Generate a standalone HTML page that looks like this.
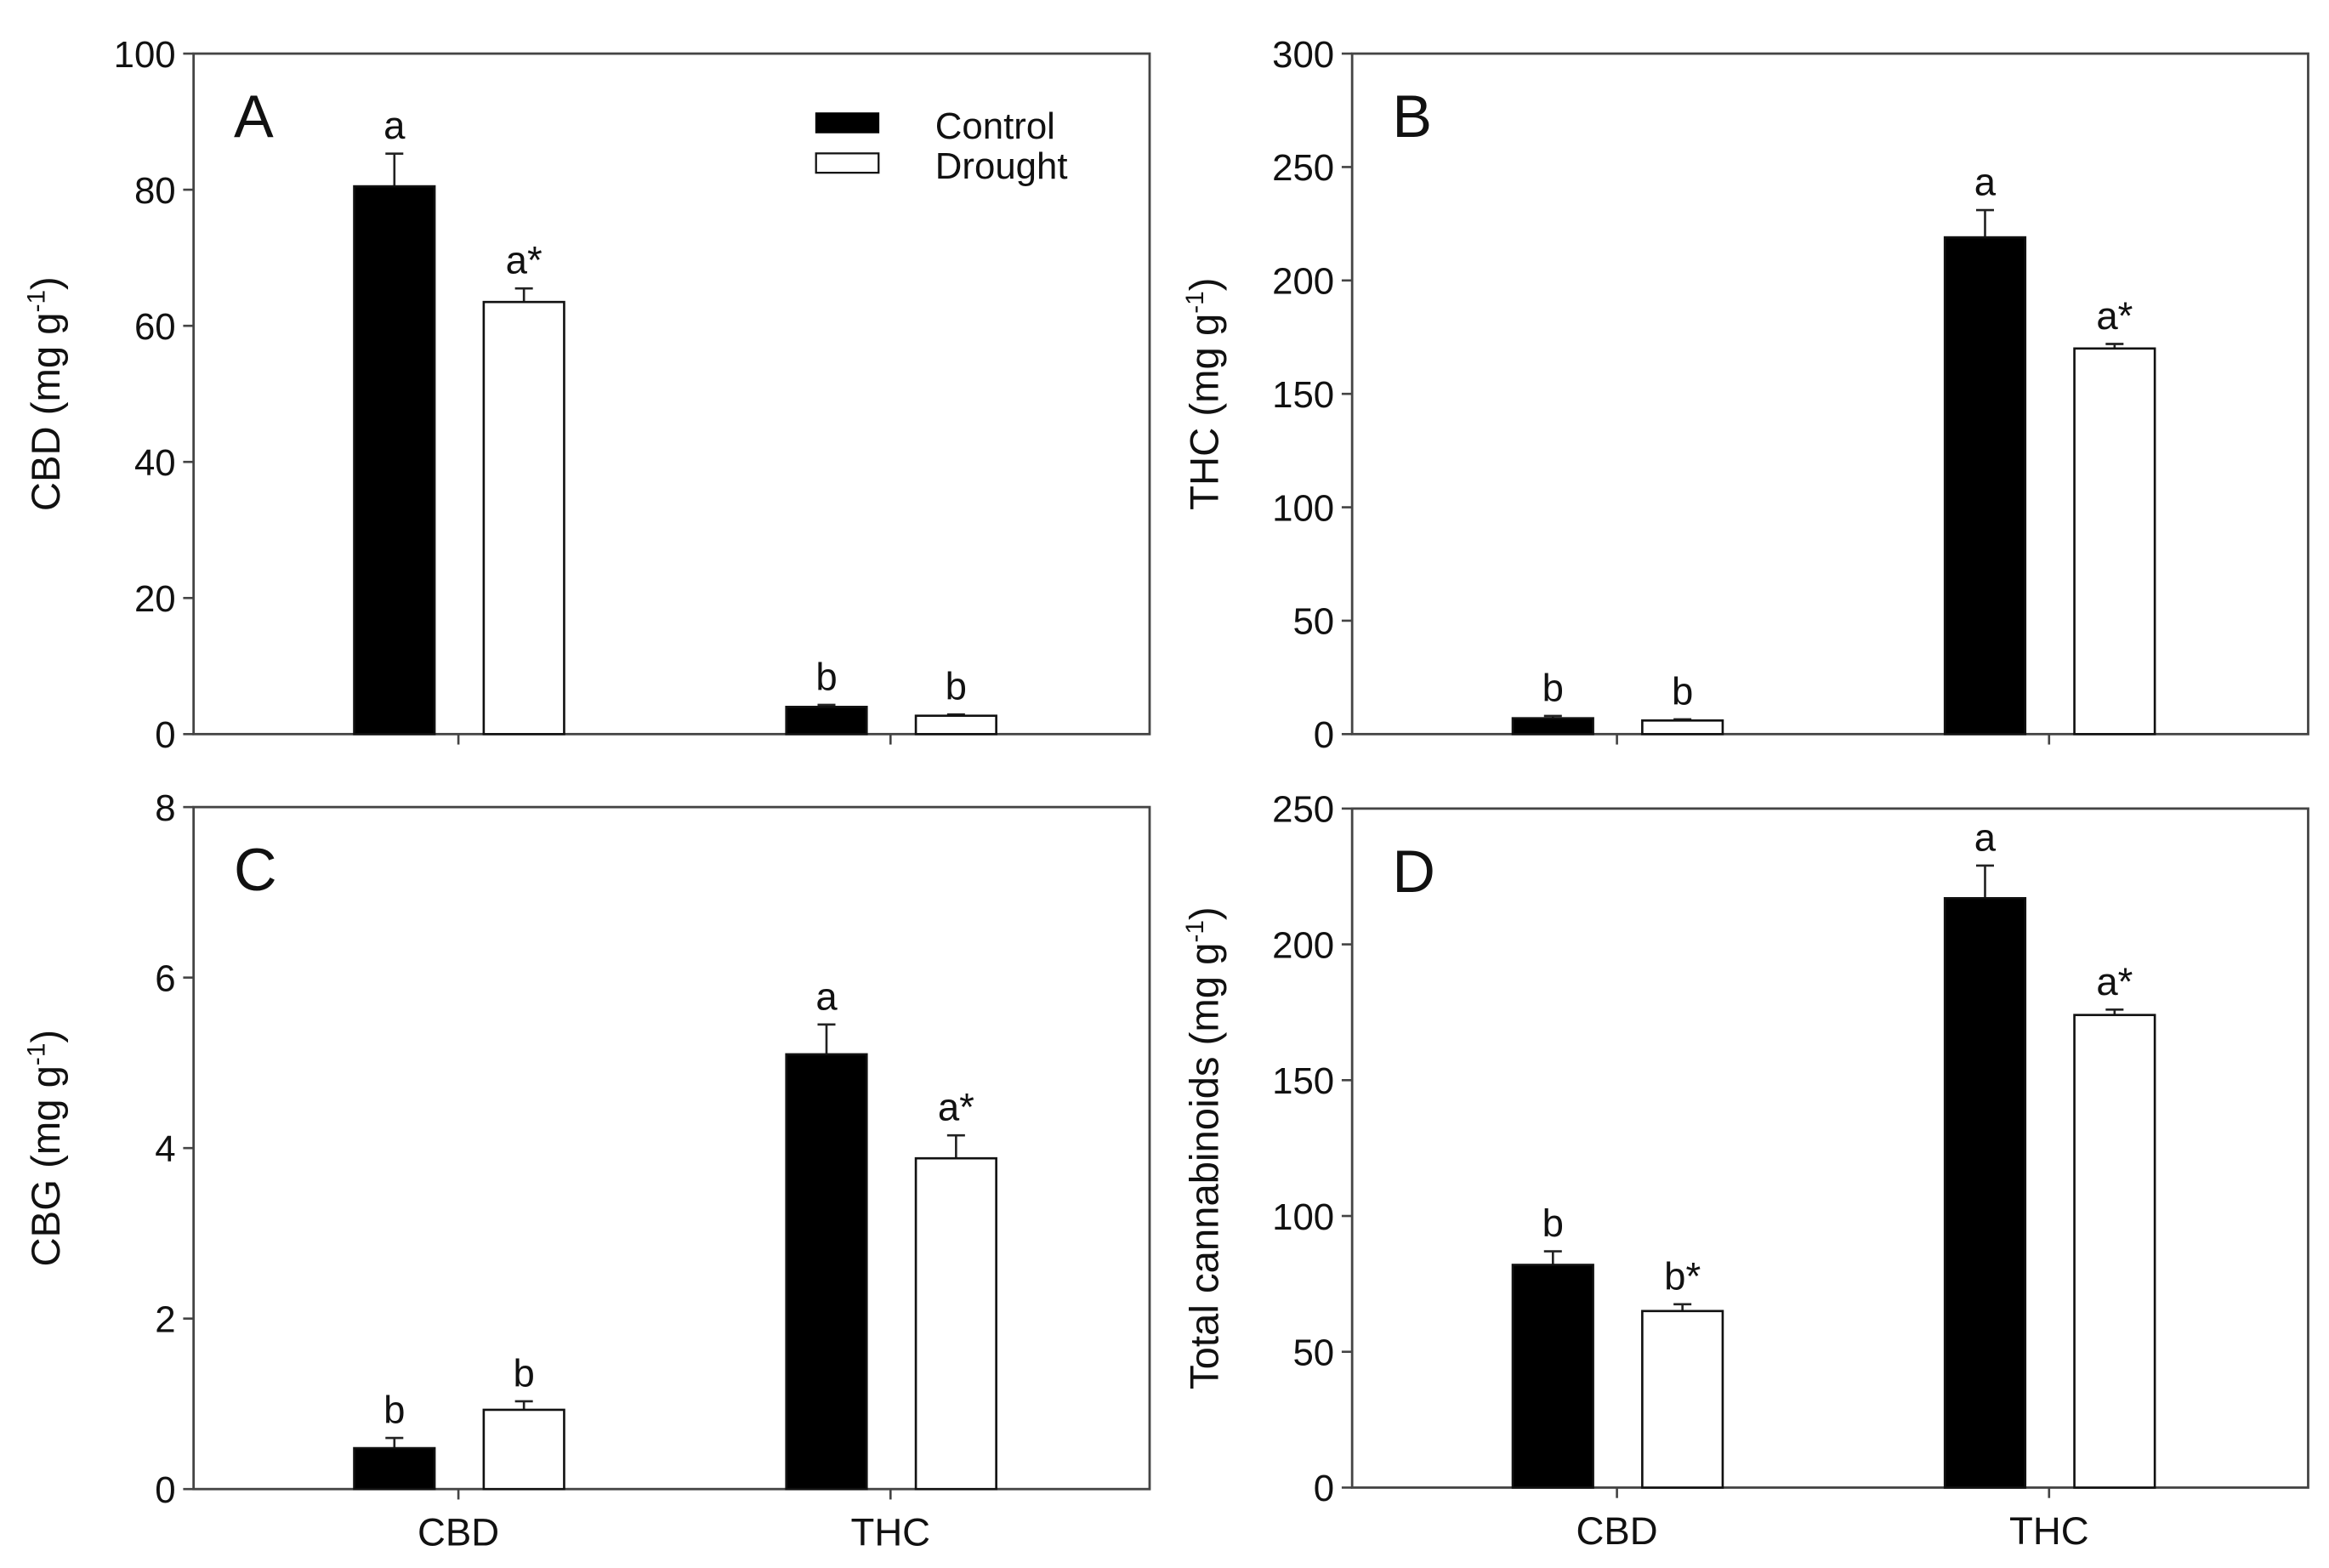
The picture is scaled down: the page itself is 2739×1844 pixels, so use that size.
<!DOCTYPE html>
<html><head><meta charset="utf-8"><style>
html,body{margin:0;padding:0;background:#fff}
svg{display:block}
text{font-family:"Liberation Sans",Arial,sans-serif;fill:#111}
</style></head><body>
<svg id="fig" width="2739" height="1844" viewBox="0 0 1564 1053" preserveAspectRatio="none" xmlns="http://www.w3.org/2000/svg"></svg>
<script>
const panelLetters = ["A","B","C","D"];
const yTitles = ["CBD", "THC", "CBG", "Total cannabinoids"];
const yMax = [100, 300, 8, 250];
const yStep = [20, 50, 2, 50];
const categories = ["CBD","THC"];
const controlVals = [[80.5,4.0],[7,219],[0.48,5.1],[82,217]];
const controlErr  = [[4.8,0.3],[1,12],[0.12,0.35],[5,12]];
const droughtVals = [[63.5,2.7],[6,170],[0.93,3.88],[65,174]];
const droughtErr  = [[2.0,0.2],[0.5,2],[0.1,0.27],[2.5,2]];
const controlLabels = [["a","b"],["b","a"],["b","a"],["b","a"]];
const droughtLabels = [["a*","b"],["b","a*"],["b","a*"],["b*","a*"]];
const showCatLabels = [false,false,true,true];

const svg = document.getElementById('fig');
const NS = "http://www.w3.org/2000/svg";
function mk(tag, attrs, parent){
  const e = document.createElementNS(NS, tag);
  for (const k in attrs) e.setAttribute(k, attrs[k]);
  (parent||svg).appendChild(e);
  return e;
}
const boxes = [
  {l:130,r:772,t:36,b:493},
  {l:908,r:1550,t:36,b:493},
  {l:130,r:772,t:542,b:1000},
  {l:908,r:1550,t:543,b:999}
];
for (let p=0;p<4;p++){
  const B = boxes[p];
  const g = mk('g',{});
  
  
  const y = v => B.b - v/yMax[p]*(B.b-B.t);
  const W = B.r-B.l;
  const catX = i => B.l + W*(0.277 + i*0.452);
  const bw = 54;
  const fr = mk('rect',{x:B.l,y:B.t,width:W,height:B.b-B.t,fill:'none',stroke:'#444','stroke-width':1.6},g);
  
  
  for (let v=0; v<=yMax[p]+1e-9; v+=yStep[p]){
    mk('line',{x1:B.l-7,x2:B.l,y1:y(v),y2:y(v),stroke:'#444','stroke-width':1.5},g);
    const t = mk('text',{x:B.l-12,y:y(v)+9,'text-anchor':'end','font-size':25},g);
    t.textContent = v;
    
    
  }
  const cy=(B.t+B.b)/2, tx=B.l-90;
  const yt = mk('text',{x:tx,y:cy,'text-anchor':'middle','font-size':27,transform:`rotate(-90 ${tx} ${cy})`},g);
  yt.innerHTML = yTitles[p]+' (mg g<tspan dy="-10" font-size="17">-1</tspan><tspan dy="10">)</tspan>';
  
  
  const pl = mk('text',{x:B.l+27,y:B.t+56,'font-size':40},g);
  pl.textContent = panelLetters[p];
  
  
  for (let i=0;i<2;i++){
    const cx = catX(i);
    mk('line',{x1:cx,x2:cx,y1:B.b,y2:B.b+7,stroke:'#444','stroke-width':1.5},g);
    if (showCatLabels[p]){
      const cl = mk('text',{x:cx,y:B.b+38,'text-anchor':'middle','font-size':26},g);
      cl.textContent = categories[i];
      
      
    }
    const series = [[controlVals,controlErr,controlLabels,'#000',cx-70],[droughtVals,droughtErr,droughtLabels,'#fff',cx+17]];
    series.forEach((s,si)=>{
      const v=s[0][p][i], e=s[1][p][i], x0=s[4];
      const ex = x0+bw/2;
      mk('line',{x1:ex,x2:ex,y1:y(v),y2:y(v+e),stroke:'#222','stroke-width':1.5},g);
      mk('line',{x1:ex-6,x2:ex+6,y1:y(v+e),y2:y(v+e),stroke:'#222','stroke-width':1.5},g);
      const r = mk('rect',{x:x0,y:y(v),width:bw,height:B.b-y(v),fill:s[3],stroke:'#111','stroke-width':1.5},g);
      
      
      const lt = mk('text',{x:ex,y:y(v+e)-10,'text-anchor':'middle','font-size':26},g);
      lt.textContent = s[2][p][i];
      
      
    });
  }
}
const lg = mk('g',{});


mk('rect',{x:548,y:76,width:42,height:13,fill:'#000',stroke:'#000'},lg);
mk('rect',{x:548,y:103,width:42,height:13,fill:'#fff',stroke:'#111','stroke-width':1.3},lg);
const l1 = mk('text',{x:628,y:93,'font-size':25},lg); l1.textContent='Control';


const l2 = mk('text',{x:628,y:120,'font-size':25},lg); l2.textContent='Drought';


</script>
</body></html>
